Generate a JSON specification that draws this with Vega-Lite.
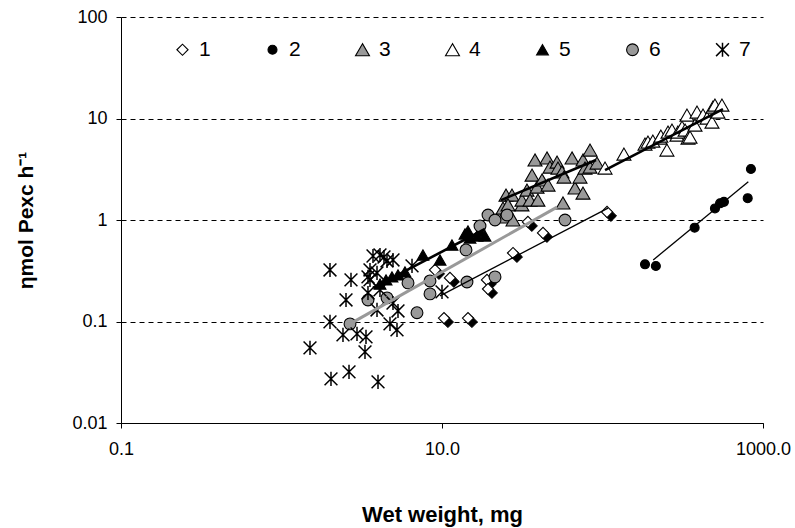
{
  "$schema": "https://vega.github.io/schema/vega-lite/v6.json",
  "width": 642,
  "height": 406,
  "autosize": {"type": "none"},
  "padding": {"left": 121, "top": 17, "right": 32, "bottom": 105},
  "config": {
    "view": {"stroke": null},
    "font": "Liberation Sans",
    "axis": {"labelFont": "Liberation Sans", "titleFont": "Liberation Sans", "labelColor": "#000", "titleColor": "#000", "domainColor": "#000", "tickColor": "#000"},
    "legend": {"title": null, "orient": "none", "legendX": 51, "legendY": 22, "columns": 7, "columnPadding": 51,
               "labelFontSize": 21, "labelFont": "Liberation Sans", "labelColor": "#000", "labelOffset": 6, "padding": 0}
  },
  "datasets": {
    "pts": [
      {"s": "1", "w": 9.05, "p": 0.322},
      {"s": "1", "w": 11.21, "p": 0.269},
      {"s": "1", "w": 19.07, "p": 0.257},
      {"s": "1", "w": 19.35, "p": 0.209},
      {"s": "1", "w": 27.7, "p": 0.473},
      {"s": "1", "w": 34.3, "p": 0.956},
      {"s": "1", "w": 42.6, "p": 0.745},
      {"s": "1", "w": 106.7, "p": 1.2},
      {"s": "1", "w": 10.29, "p": 0.108},
      {"s": "1", "w": 14.52, "p": 0.108},

      {"s": "2", "w": 184, "p": 0.366},
      {"s": "2", "w": 215, "p": 0.352},
      {"s": "2", "w": 375, "p": 0.84},
      {"s": "2", "w": 502, "p": 1.3},
      {"s": "2", "w": 540, "p": 1.46},
      {"s": "2", "w": 571, "p": 1.51},
      {"s": "2", "w": 841, "p": 3.18},
      {"s": "2", "w": 803, "p": 1.64},

      {"s": "3", "w": 24.0, "p": 1.31},
      {"s": "3", "w": 24.0, "p": 1.07},
      {"s": "3", "w": 25.05, "p": 1.76},
      {"s": "3", "w": 27.3, "p": 1.76},
      {"s": "3", "w": 25.78, "p": 1.41},
      {"s": "3", "w": 27.7, "p": 1.0},
      {"s": "3", "w": 31.5, "p": 1.41},
      {"s": "3", "w": 31.5, "p": 1.57},
      {"s": "3", "w": 33.85, "p": 1.97},
      {"s": "3", "w": 35.35, "p": 1.57},
      {"s": "3", "w": 36.4, "p": 2.77},
      {"s": "3", "w": 37.97, "p": 3.9},
      {"s": "3", "w": 39.1, "p": 2.11},
      {"s": "3", "w": 39.6, "p": 1.57},
      {"s": "3", "w": 42.0, "p": 2.48},
      {"s": "3", "w": 45.1, "p": 4.08},
      {"s": "3", "w": 45.8, "p": 2.21},
      {"s": "3", "w": 47.1, "p": 3.32},
      {"s": "3", "w": 52.1, "p": 3.72},
      {"s": "3", "w": 52.8, "p": 3.25},
      {"s": "3", "w": 55.9, "p": 2.97},
      {"s": "3", "w": 57.6, "p": 2.65},
      {"s": "3", "w": 56.7, "p": 1.47},
      {"s": "3", "w": 64.6, "p": 4.08},
      {"s": "3", "w": 67.4, "p": 2.07},
      {"s": "3", "w": 72.4, "p": 2.65},
      {"s": "3", "w": 75.6, "p": 1.84},
      {"s": "3", "w": 75.6, "p": 3.9},
      {"s": "3", "w": 77.8, "p": 3.25},
      {"s": "3", "w": 83.6, "p": 4.89},
      {"s": "3", "w": 83.6, "p": 3.32},
      {"s": "3", "w": 92.4, "p": 3.64},

      {"s": "4", "w": 103.7, "p": 3.25},
      {"s": "4", "w": 136, "p": 4.46},
      {"s": "4", "w": 184, "p": 5.6},
      {"s": "4", "w": 192, "p": 5.86},
      {"s": "4", "w": 206, "p": 5.99},
      {"s": "4", "w": 228, "p": 6.41},
      {"s": "4", "w": 231, "p": 6.71},
      {"s": "4", "w": 252, "p": 4.89},
      {"s": "4", "w": 256, "p": 7.35},
      {"s": "4", "w": 271, "p": 7.69},
      {"s": "4", "w": 291, "p": 6.86},
      {"s": "4", "w": 295, "p": 7.35},
      {"s": "4", "w": 313, "p": 8.23},
      {"s": "4", "w": 327, "p": 7.69},
      {"s": "4", "w": 336, "p": 10.8},
      {"s": "4", "w": 341, "p": 6.41},
      {"s": "4", "w": 351, "p": 6.56},
      {"s": "4", "w": 377, "p": 8.61},
      {"s": "4", "w": 388, "p": 11.56},
      {"s": "4", "w": 423, "p": 10.8},
      {"s": "4", "w": 448, "p": 10.09},
      {"s": "4", "w": 481, "p": 9.22},
      {"s": "4", "w": 488, "p": 12.95},
      {"s": "4", "w": 502, "p": 13.55},
      {"s": "4", "w": 524, "p": 11.56},
      {"s": "4", "w": 555, "p": 13.55},

      {"s": "5", "w": 4.11, "p": 0.234},
      {"s": "5", "w": 4.48, "p": 0.257},
      {"s": "5", "w": 4.88, "p": 0.275},
      {"s": "5", "w": 5.32, "p": 0.288},
      {"s": "5", "w": 5.88, "p": 0.308},
      {"s": "5", "w": 7.61, "p": 0.452},
      {"s": "5", "w": 9.72, "p": 0.404},
      {"s": "5", "w": 11.54, "p": 0.567},
      {"s": "5", "w": 13.91, "p": 0.728},
      {"s": "5", "w": 14.52, "p": 0.779},
      {"s": "5", "w": 14.94, "p": 0.665},
      {"s": "5", "w": 16.52, "p": 0.696},
      {"s": "5", "w": 17.25, "p": 0.779},
      {"s": "5", "w": 18.53, "p": 0.696},

      {"s": "6", "w": 2.672, "p": 0.0947},
      {"s": "6", "w": 3.458, "p": 0.163},
      {"s": "6", "w": 4.543, "p": 0.171},
      {"s": "6", "w": 6.141, "p": 0.24},
      {"s": "6", "w": 6.985, "p": 0.122},
      {"s": "6", "w": 8.418, "p": 0.251},
      {"s": "6", "w": 8.418, "p": 0.187},
      {"s": "6", "w": 14.11, "p": 0.507},
      {"s": "6", "w": 14.31, "p": 0.245},
      {"s": "6", "w": 17.25, "p": 0.873},
      {"s": "6", "w": 19.35, "p": 1.12},
      {"s": "6", "w": 21.39, "p": 1.0},
      {"s": "6", "w": 21.39, "p": 0.275},
      {"s": "6", "w": 25.41, "p": 1.12},
      {"s": "6", "w": 58.4, "p": 1.0},

      {"s": "7", "w": 1.505, "p": 0.055},
      {"s": "7", "w": 2.005, "p": 0.322},
      {"s": "7", "w": 2.005, "p": 0.0991},
      {"s": "7", "w": 2.034, "p": 0.0272},
      {"s": "7", "w": 2.416, "p": 0.0738},
      {"s": "7", "w": 2.523, "p": 0.163},
      {"s": "7", "w": 2.634, "p": 0.0319},
      {"s": "7", "w": 2.71, "p": 0.257},
      {"s": "7", "w": 2.954, "p": 0.0755},
      {"s": "7", "w": 3.361, "p": 0.0705},
      {"s": "7", "w": 3.313, "p": 0.0502},
      {"s": "7", "w": 3.993, "p": 0.0254},
      {"s": "7", "w": 4.742, "p": 0.0947},
      {"s": "7", "w": 5.243, "p": 0.0827},
      {"s": "7", "w": 5.319, "p": 0.127},
      {"s": "7", "w": 3.936, "p": 0.13},
      {"s": "7", "w": 3.716, "p": 0.442},
      {"s": "7", "w": 4.108, "p": 0.452},
      {"s": "7", "w": 4.543, "p": 0.395},
      {"s": "7", "w": 4.951, "p": 0.404},
      {"s": "7", "w": 3.559, "p": 0.322},
      {"s": "7", "w": 3.936, "p": 0.301},
      {"s": "7", "w": 3.559, "p": 0.257},
      {"s": "7", "w": 3.458, "p": 0.191},
      {"s": "7", "w": 4.108, "p": 0.205},
      {"s": "7", "w": 4.951, "p": 0.152},
      {"s": "7", "w": 3.458, "p": 0.275},
      {"s": "7", "w": 6.504, "p": 0.353},
      {"s": "7", "w": 10.0, "p": 0.196},
      {"s": "7", "w": 4.351, "p": 0.432}
    ],
    "fits": [
      {"s": "1", "w": 9.72, "p": 0.179},
      {"s": "1", "w": 108.2, "p": 1.31},
      {"s": "2", "w": 207, "p": 0.404},
      {"s": "2", "w": 810, "p": 2.38},
      {"s": "3", "w": 23.3, "p": 1.57},
      {"s": "3", "w": 91.1, "p": 3.9},
      {"s": "4", "w": 103.7, "p": 3.1},
      {"s": "4", "w": 563, "p": 12.38},
      {"s": "5", "w": 3.716, "p": 0.214},
      {"s": "5", "w": 18.53, "p": 0.815},
      {"s": "6", "w": 2.672, "p": 0.0947},
      {"s": "6", "w": 52.1, "p": 1.34}
    ]
  },
  "encoding": {
    "x": {
      "field": "w", "type": "quantitative",
      "scale": {"type": "log", "domain": [0.1, 1000], "nice": false},
      "axis": {
        "title": "Wet weight, mg", "titleFontSize": 22, "titleFontWeight": "bold",
        "titleBaseline": "alphabetic", "titleY": 98,
        "values": [0.1, 10, 1000],
        "labelExpr": "datum.value < 1 ? '0.1' : format(datum.value, '.1f')",
        "labelFontSize": 18, "labelPadding": 12, "tickSize": 5,
        "grid": false, "labelFlush": false, "labelOverlap": false
      }
    },
    "y": {
      "field": "p", "type": "quantitative",
      "scale": {"type": "log", "domain": [0.01, 100], "nice": false},
      "axis": {
        "title": "ηmol Pexc h⁻¹", "titleFontSize": 21, "titleFontWeight": "bold",
        "titleBaseline": "alphabetic", "titleX": -89, "titleAngle": -90,
        "values": [0.01, 0.1, 1, 10, 100], "format": "~g",
        "labelFontSize": 18, "labelPadding": 9, "tickSize": 5,
        "labelFlush": false, "labelOverlap": false,
        "grid": true, "gridColor": "#000", "gridDash": [5, 4], "gridWidth": 1, "gridOpacity": 1
      }
    }
  },
  "layer": [
    {
      "data": {"name": "pts"},
      "transform": [{"filter": "datum.s === '1'"}],
      "mark": {"type": "point", "filled": true, "fill": "#000", "stroke": "#000", "strokeWidth": 1, "opacity": 1, "size": 125,
               "shape": "M0.7,-0.3L1.7,0.7L0.7,1.7L-0.3,0.7Z"}
    },
    {
      "data": {"name": "pts"},
      "mark": {"type": "point", "filled": true, "opacity": 1},
      "encoding": {
        "shape": {
          "field": "s", "type": "nominal",
          "scale": {"domain": ["1", "2", "3", "4", "5", "6", "7"],
                    "range": ["diamond", "circle", "triangle-up", "triangle-up", "triangle-up", "circle",
                              "M-1,-1L1,1M-1,1L1,-1M0,-1.1L0,1.1"]}
        },
        "fill": {
          "field": "s", "type": "nominal",
          "scale": {"domain": ["1", "2", "3", "4", "5", "6", "7"],
                    "range": ["#ffffff", "#000000", "#999999", "#ffffff", "#000000", "#999999", "transparent"]}
        },
        "stroke": {
          "field": "s", "type": "nominal",
          "scale": {"domain": ["1", "2", "3", "4", "5", "6", "7"],
                    "range": ["#000000", "#000000", "#000000", "#000000", "#000000", "#000000", "#000000"]}
        },
        "strokeWidth": {
          "field": "s", "type": "nominal",
          "scale": {"type": "ordinal", "domain": ["1", "2", "3", "4", "5", "6", "7"],
                    "range": [1.1, 1.1, 1.1, 1.1, 1.1, 1.1, 1.5]}
        },
        "size": {
          "field": "s", "type": "nominal",
          "scale": {"type": "ordinal", "domain": ["1", "2", "3", "4", "5", "6", "7"],
                    "range": [125, 81, 195, 195, 140, 140, 165]}
        }
      }
    },
    {
      "data": {"name": "fits"},
      "transform": [{"filter": "datum.s === '1' || datum.s === '2'"}],
      "mark": {"type": "line", "color": "#000", "strokeWidth": 1.3},
      "encoding": {"detail": {"field": "s"}}
    },
    {
      "data": {"name": "fits"},
      "transform": [{"filter": "datum.s === '3' || datum.s === '4' || datum.s === '5'"}],
      "mark": {"type": "line", "color": "#000", "strokeWidth": 2.6},
      "encoding": {"detail": {"field": "s"}}
    },
    {
      "data": {"name": "fits"},
      "transform": [{"filter": "datum.s === '6'"}],
      "mark": {"type": "line", "color": "#999999", "strokeWidth": 3},
      "encoding": {"detail": {"field": "s"}}
    }
  ]
}
